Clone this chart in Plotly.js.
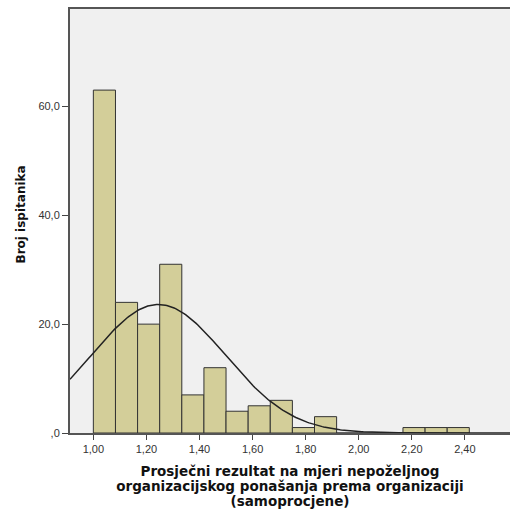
<!DOCTYPE html>
<html>
<head>
<meta charset="utf-8">
<script src="https://cdn.plot.ly/plotly-3.0.1.min.js"></script>
<style>
html,body{margin:0;padding:0;background:#fff;}
#chart{width:511px;height:514px;}
</style>
</head>
<body>
<div id="chart"></div>
<script>
// Histogram data (bins of width 1/12 starting at 1,00)
const binStart = 1.0;
const binWidth = 1 / 12;
const counts = [63, 24, 20, 31, 7, 12, 4, 5, 6, 1, 3, 0, 0, 0, 1, 1, 1];

// Normal curve parameters
const curveMean = 1.245;
const curveSD = 0.252;

// Tick labels
const xTickVals = [1.0, 1.2, 1.4, 1.6, 1.8, 2.0, 2.2, 2.4];
const xTickText = ["1,00", "1,20", "1,40", "1,60", "1,80", "2,00", "2,20", "2,40"];
const yTickVals = [0, 20, 40, 60];
const yTickText = [",0", "20,0", "40,0", "60,0"];

// Titles
const xTitleLines = [
  "Prosječni rezultat na mjeri nepoželjnog",
  "organizacijskog ponašanja prema organizaciji",
  "(samoprocjene)"
];
const yTitle = "Broj ispitanika";

const xRange = [0.912, 2.57];
const yRange = [0, 77.9];

const centers = counts.map((c, i) => binStart + binWidth * (i + 0.5));
const N = counts.reduce((a, b) => a + b, 0);

const curveX = [];
const curveY = [];
const steps = 300;
for (let i = 0; i <= steps; i++) {
  const x = xRange[0] + (xRange[1] - xRange[0]) * i / steps;
  const z = (x - curveMean) / curveSD;
  curveX.push(x);
  curveY.push(N * binWidth / (curveSD * Math.sqrt(2 * Math.PI)) * Math.exp(-0.5 * z * z));
}

const font = "Arial, 'Liberation Sans', sans-serif";
const titleFamily = "'DejaVu Sans', sans-serif";

const data = [
  {
    type: "bar",
    x: centers,
    y: counts,
    width: binWidth,
    marker: { color: "rgb(211,206,153)", line: { color: "#333333", width: 1 } },
    hoverinfo: "x+y"
  },
  {
    type: "scatter",
    mode: "lines",
    x: curveX,
    y: curveY,
    line: { color: "#222222", width: 1.5 },
    hoverinfo: "skip"
  }
];

const layout = {
  width: 511,
  height: 514,
  margin: { l: 70, r: 1, t: 9, b: 81 },
  paper_bgcolor: "#ffffff",
  plot_bgcolor: "#f0f0f0",
  showlegend: false,
  bargap: 0,
  font: { family: font, size: 11, color: "#333333" },
  annotations: [{
    text: "<b>" + yTitle + "</b>",
    xref: "paper", yref: "paper",
    x: 0, y: 0.5153,
    xanchor: "center", yanchor: "middle",
    xshift: -49,
    textangle: -90,
    showarrow: false,
    font: { family: titleFamily, size: 12, color: "#111111" }
  }],
  xaxis: {
    range: xRange,
    tickvals: xTickVals,
    ticktext: xTickText,
    ticks: "outside",
    ticklen: 5,
    tickcolor: "#444444",
    showgrid: false,
    zeroline: false,
    showline: true,
    linecolor: "#555555",
    linewidth: 2,
    mirror: true,
    tickfont: { family: font, size: 11, color: "#333333" },
    title: {
      text: xTitleLines.map(t => "<b>" + t + "</b>").join("<br>"),
      font: { family: titleFamily, size: 13.5, color: "#111111" },
      standoff: 13
    }
  },
  yaxis: {
    range: yRange,
    tickvals: yTickVals,
    ticktext: yTickText,
    ticks: "outside",
    ticklen: 6,
    tickcolor: "#444444",
    showgrid: false,
    zeroline: false,
    showline: true,
    linecolor: "#555555",
    linewidth: 2,
    tickfont: { family: font, size: 11, color: "#333333" }
  }
};

// Line spacing for the multi-line x-axis title, closer to the reference
function tightenTitle() {
  const lines = document.querySelectorAll("#chart .g-xtitle text tspan.line");
  lines.forEach((ln, i) => ln.setAttribute("dy", (i * 15) + "px"));
}

Plotly.newPlot("chart", data, layout, { staticPlot: true, displayModeBar: false })
  .then(tightenTitle);
</script>
</body>
</html>
